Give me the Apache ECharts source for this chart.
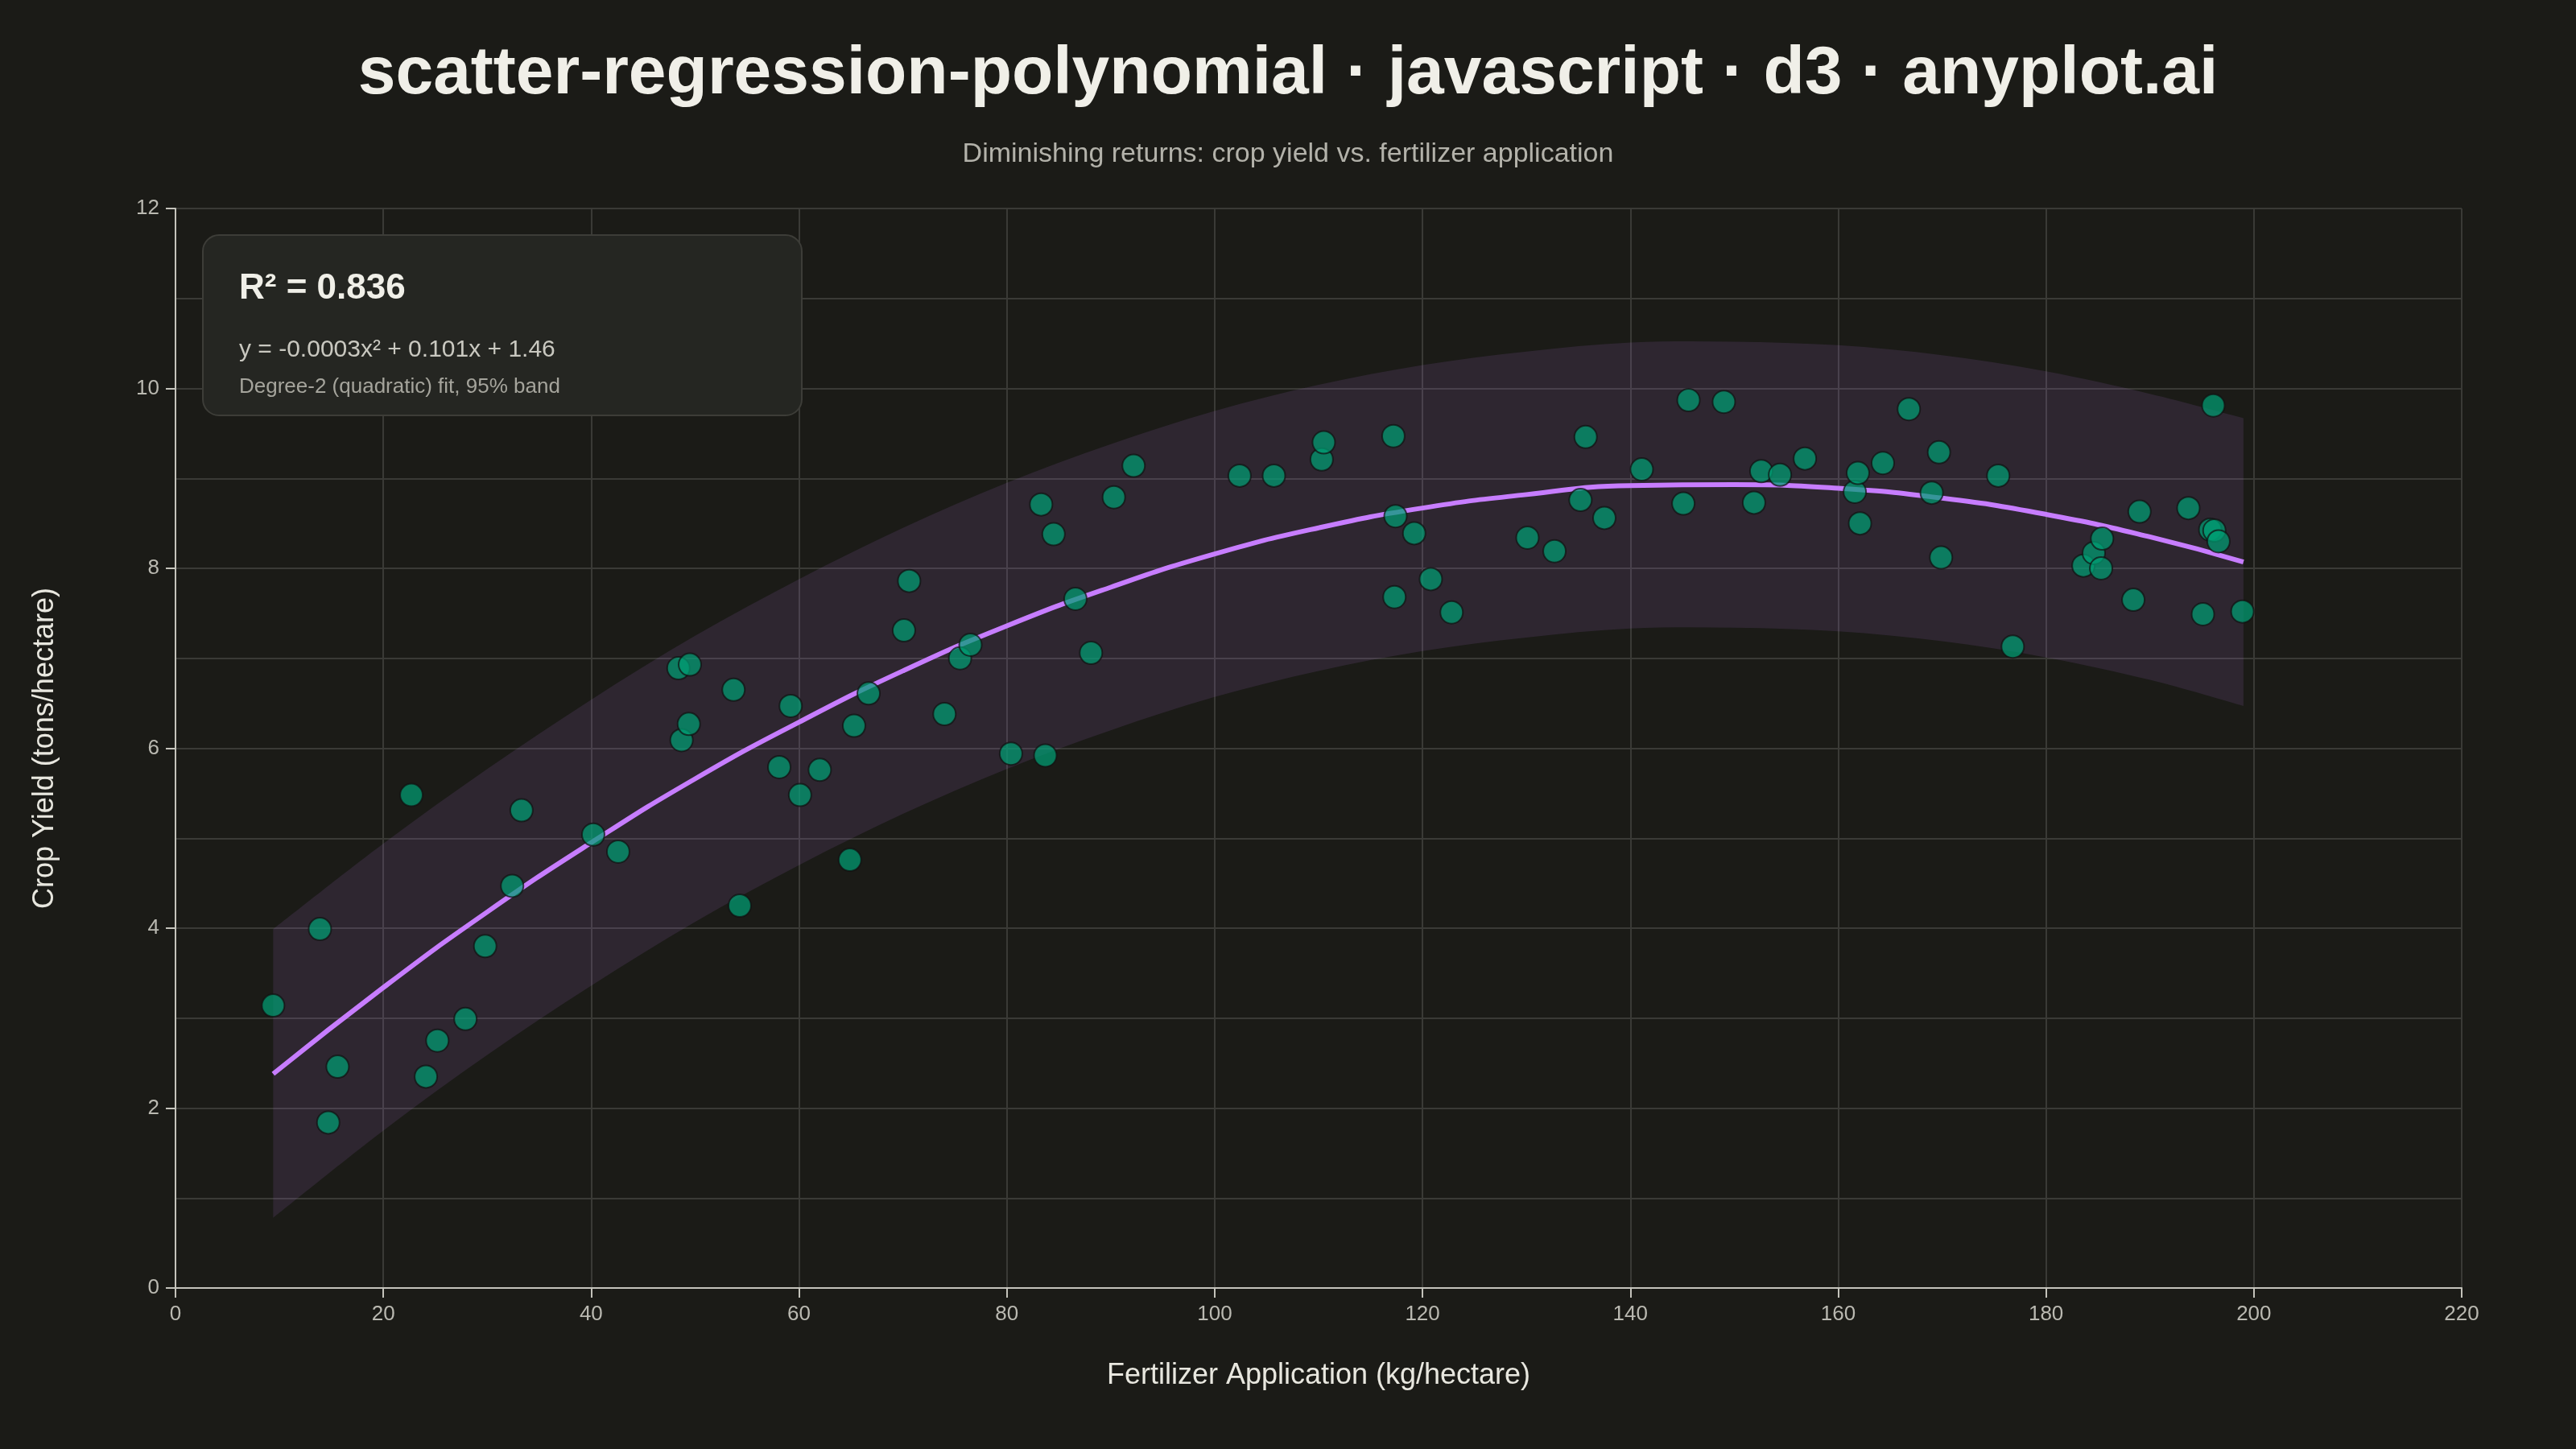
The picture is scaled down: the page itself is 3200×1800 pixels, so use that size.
<!DOCTYPE html>
<html>
<head>
<meta charset="utf-8">
<title>scatter-regression-polynomial</title>
<script src="https://cdn.jsdelivr.net/npm/echarts@6/dist/echarts.min.js"></script>
<style>
  html, body { margin: 0; padding: 0; background: #1b1b17; }
  #chart { width: 3200px; height: 1800px; }
</style>
</head>
<body>
<div id="chart"></div>
<script>
// fertilizer (kg/ha) and yield (t/ha)
const fertilizer = [
  9.4, 13.9, 14.7, 15.6, 22.7, 24.1, 25.2, 27.9, 29.8, 32.4,
  33.3, 40.2, 42.6, 48.4, 48.7, 49.4, 49.5, 53.7, 54.3, 58.1,
  59.2, 60.1, 62.0, 64.9, 65.3, 66.7, 70.1, 70.6, 74.0, 75.5,
  76.5, 80.4, 83.3, 83.7, 84.5, 86.6, 88.1, 90.3, 92.2, 102.4,
  105.7, 110.3, 110.5, 117.2, 117.3, 117.4, 119.2, 120.8, 122.8, 130.1,
  132.7, 135.2, 135.7, 137.5, 141.1, 145.1, 145.6, 149.0, 151.9, 152.6,
  154.4, 156.8, 161.6, 161.9, 162.1, 164.3, 166.8, 169.0, 169.7, 169.9,
  175.4, 176.8, 183.6, 184.6, 185.3, 185.4, 188.4, 189.0, 193.7, 195.1,
  195.8, 196.1, 196.2, 196.6, 198.9
];
const cropYield = [
  3.14, 3.99, 1.84, 2.46, 5.48, 2.35, 2.75, 2.99, 3.80, 4.47,
  5.31, 5.04, 4.85, 6.89, 6.09, 6.27, 6.93, 6.65, 4.25, 5.79,
  6.47, 5.48, 5.76, 4.76, 6.25, 6.61, 7.31, 7.86, 6.38, 7.00,
  7.15, 5.94, 8.71, 5.92, 8.38, 7.66, 7.06, 8.79, 9.14, 9.03,
  9.03, 9.21, 9.40, 9.47, 7.68, 8.58, 8.39, 7.88, 7.51, 8.34,
  8.19, 8.76, 9.46, 8.56, 9.10, 8.72, 9.87, 9.85, 8.73, 9.08,
  9.04, 9.22, 8.85, 9.06, 8.50, 9.17, 9.77, 8.84, 9.29, 8.12,
  9.03, 7.13, 8.03, 8.17, 8.00, 8.33, 7.65, 8.63, 8.67, 7.49,
  8.43, 9.81, 8.42, 8.30, 7.52
];

// fitted curve and 95% band, sampled from the plot
const fitX     = [9.4, 20, 30, 40, 50, 60, 70, 80, 90, 100, 110, 120, 130, 140, 150, 160, 170, 180, 190, 199];
const fitY     = [2.38, 3.34, 4.18, 4.95, 5.66, 6.29, 6.86, 7.36, 7.79, 8.16, 8.45, 8.67, 8.82, 8.92, 8.93, 8.89, 8.78, 8.60, 8.35, 8.07];
const bandHigh = [3.99, 4.94, 5.77, 6.54, 7.25, 7.88, 8.45, 8.95, 9.38, 9.75, 10.04, 10.26, 10.41, 10.51, 10.52, 10.48, 10.37, 10.19, 9.94, 9.67];
const bandLow  = [0.78, 1.75, 2.59, 3.36, 4.07, 4.70, 5.27, 5.77, 6.20, 6.57, 6.86, 7.08, 7.23, 7.33, 7.34, 7.30, 7.19, 7.01, 6.76, 6.47];

const xTicks = [0, 220, 20];   // min, max, step
const yTicks = [0, 12, 2];

const FONT = 'Liberation Sans, Arial, sans-serif';
const GRID_COLOR = '#3a3a36';
const AXIS_COLOR = '#c4c3bb';
const LABEL_COLOR = '#bab9b1';

// catmull-rom through pixel points -> svg cubic segments
function curveThrough(pts) {
  let d = '';
  for (let i = 0; i < pts.length - 1; i++) {
    const p0 = pts[i - 1] || pts[i];
    const p1 = pts[i];
    const p2 = pts[i + 1];
    const p3 = pts[i + 2] || p2;
    const c1 = [p1[0] + (p2[0] - p0[0]) / 6, p1[1] + (p2[1] - p0[1]) / 6];
    const c2 = [p2[0] - (p3[0] - p1[0]) / 6, p2[1] - (p3[1] - p1[1]) / 6];
    d += ' C' + c1[0] + ' ' + c1[1] + ' ' + c2[0] + ' ' + c2[1] + ' ' + p2[0] + ' ' + p2[1];
  }
  return d;
}

const chart = echarts.init(document.getElementById('chart'), null, { renderer: 'canvas' });

const option = {
  backgroundColor: '#1b1b17',
  animation: false,
  textStyle: { fontFamily: FONT },
  title: [{
    text: 'scatter-regression-polynomial · javascript · d3 · anyplot.ai',
    left: 'center',
    top: 46,
    textStyle: { color: '#f0efe8', fontSize: 84, fontWeight: 'bold', fontFamily: FONT }
  }, {
    text: 'Diminishing returns: crop yield vs. fertilizer application',
    left: 'center',
    top: 170,
    textStyle: { color: '#b3b2aa', fontSize: 34, fontWeight: 'normal', fontFamily: FONT }
  }],
  grid: { left: 218, right: 142, top: 259, bottom: 200, containLabel: false },
  xAxis: {
    type: 'value',
    min: xTicks[0], max: xTicks[1], interval: xTicks[2],
    name: 'Fertilizer Application (kg/hectare)',
    nameLocation: 'middle',
    nameGap: 91,
    nameTextStyle: { color: '#e8e7df', fontSize: 36, fontFamily: FONT },
    axisLine: { show: true, lineStyle: { color: AXIS_COLOR, width: 2 } },
    axisTick: { show: true, length: 12, lineStyle: { color: AXIS_COLOR, width: 2 } },
    axisLabel: { color: LABEL_COLOR, fontSize: 26, margin: 20, fontFamily: FONT },
    splitLine: { show: true, lineStyle: { color: GRID_COLOR, width: 2 } }
  },
  yAxis: {
    type: 'value',
    min: yTicks[0], max: yTicks[1], interval: yTicks[2],
    name: 'Crop Yield (tons/hectare)',
    nameLocation: 'middle',
    nameGap: 144,
    nameTextStyle: { color: '#e8e7df', fontSize: 36, fontFamily: FONT },
    axisLine: { show: true, lineStyle: { color: AXIS_COLOR, width: 2 } },
    axisTick: { show: true, length: 12, lineStyle: { color: AXIS_COLOR, width: 2 } },
    axisLabel: { color: LABEL_COLOR, fontSize: 26, margin: 20, fontFamily: FONT },
    splitLine: { show: true, lineStyle: { color: GRID_COLOR, width: 2 } },
    minorTick: { show: false, splitNumber: 2 },
    minorSplitLine: { show: true, lineStyle: { color: GRID_COLOR, width: 2 } }
  },
  series: [{
    // 95% band: smooth closed path through the sampled edges
    type: 'custom',
    z: 1,
    silent: true,
    data: fitX.map((x, i) => [x, bandLow[i], bandHigh[i]]),
    encode: { x: 0, y: [1, 2] },
    renderItem: function (params, api) {
      if (params.dataIndex !== 0) return null;
      const top = fitX.map((x, i) => api.coord([x, bandHigh[i]]));
      const bottom = fitX.map((x, i) => api.coord([x, bandLow[i]])).reverse();
      const d = 'M' + top[0][0] + ' ' + top[0][1] + curveThrough(top) +
        ' L' + bottom[0][0] + ' ' + bottom[0][1] + curveThrough(bottom) + ' Z';
      return {
        type: 'path',
        shape: { pathData: d },
        style: { fill: 'rgba(199, 125, 255, 0.11)', stroke: null }
      };
    }
  }, {
    type: 'line',
    z: 2,
    data: fitX.map((x, i) => [x, fitY[i]]),
    smooth: true,
    showSymbol: false,
    lineStyle: { color: '#c77dff', width: 6 }
  }, {
    type: 'scatter',
    z: 3,
    data: fertilizer.map((x, i) => [x, cropYield[i]]),
    symbolSize: 28,
    itemStyle: {
      color: '#009e73',
      opacity: 0.72,
      borderColor: '#111110',
      borderWidth: 2
    }
  }],
  graphic: [{
    type: 'rect',
    z: 10,
    shape: { x: 252, y: 292, width: 744, height: 224, r: 20 },
    style: { fill: '#252622', stroke: '#3d3d38', lineWidth: 2 }
  }, {
    type: 'text',
    z: 11,
    style: {
      text: 'R² = 0.836', x: 297, y: 359,
      fill: '#f0efe8', font: 'bold 44px ' + FONT,
      textVerticalAlign: 'middle'
    }
  }, {
    type: 'text',
    z: 11,
    style: {
      text: 'y = -0.0003x² + 0.101x + 1.46', x: 297, y: 435,
      fill: '#c9c8c0', font: '30px ' + FONT,
      textVerticalAlign: 'middle'
    }
  }, {
    type: 'text',
    z: 11,
    style: {
      text: 'Degree-2 (quadratic) fit, 95% band', x: 297, y: 481,
      fill: '#a5a49c', font: '26px ' + FONT,
      textVerticalAlign: 'middle'
    }
  }]
};

chart.setOption(option);
</script>
</body>
</html>
